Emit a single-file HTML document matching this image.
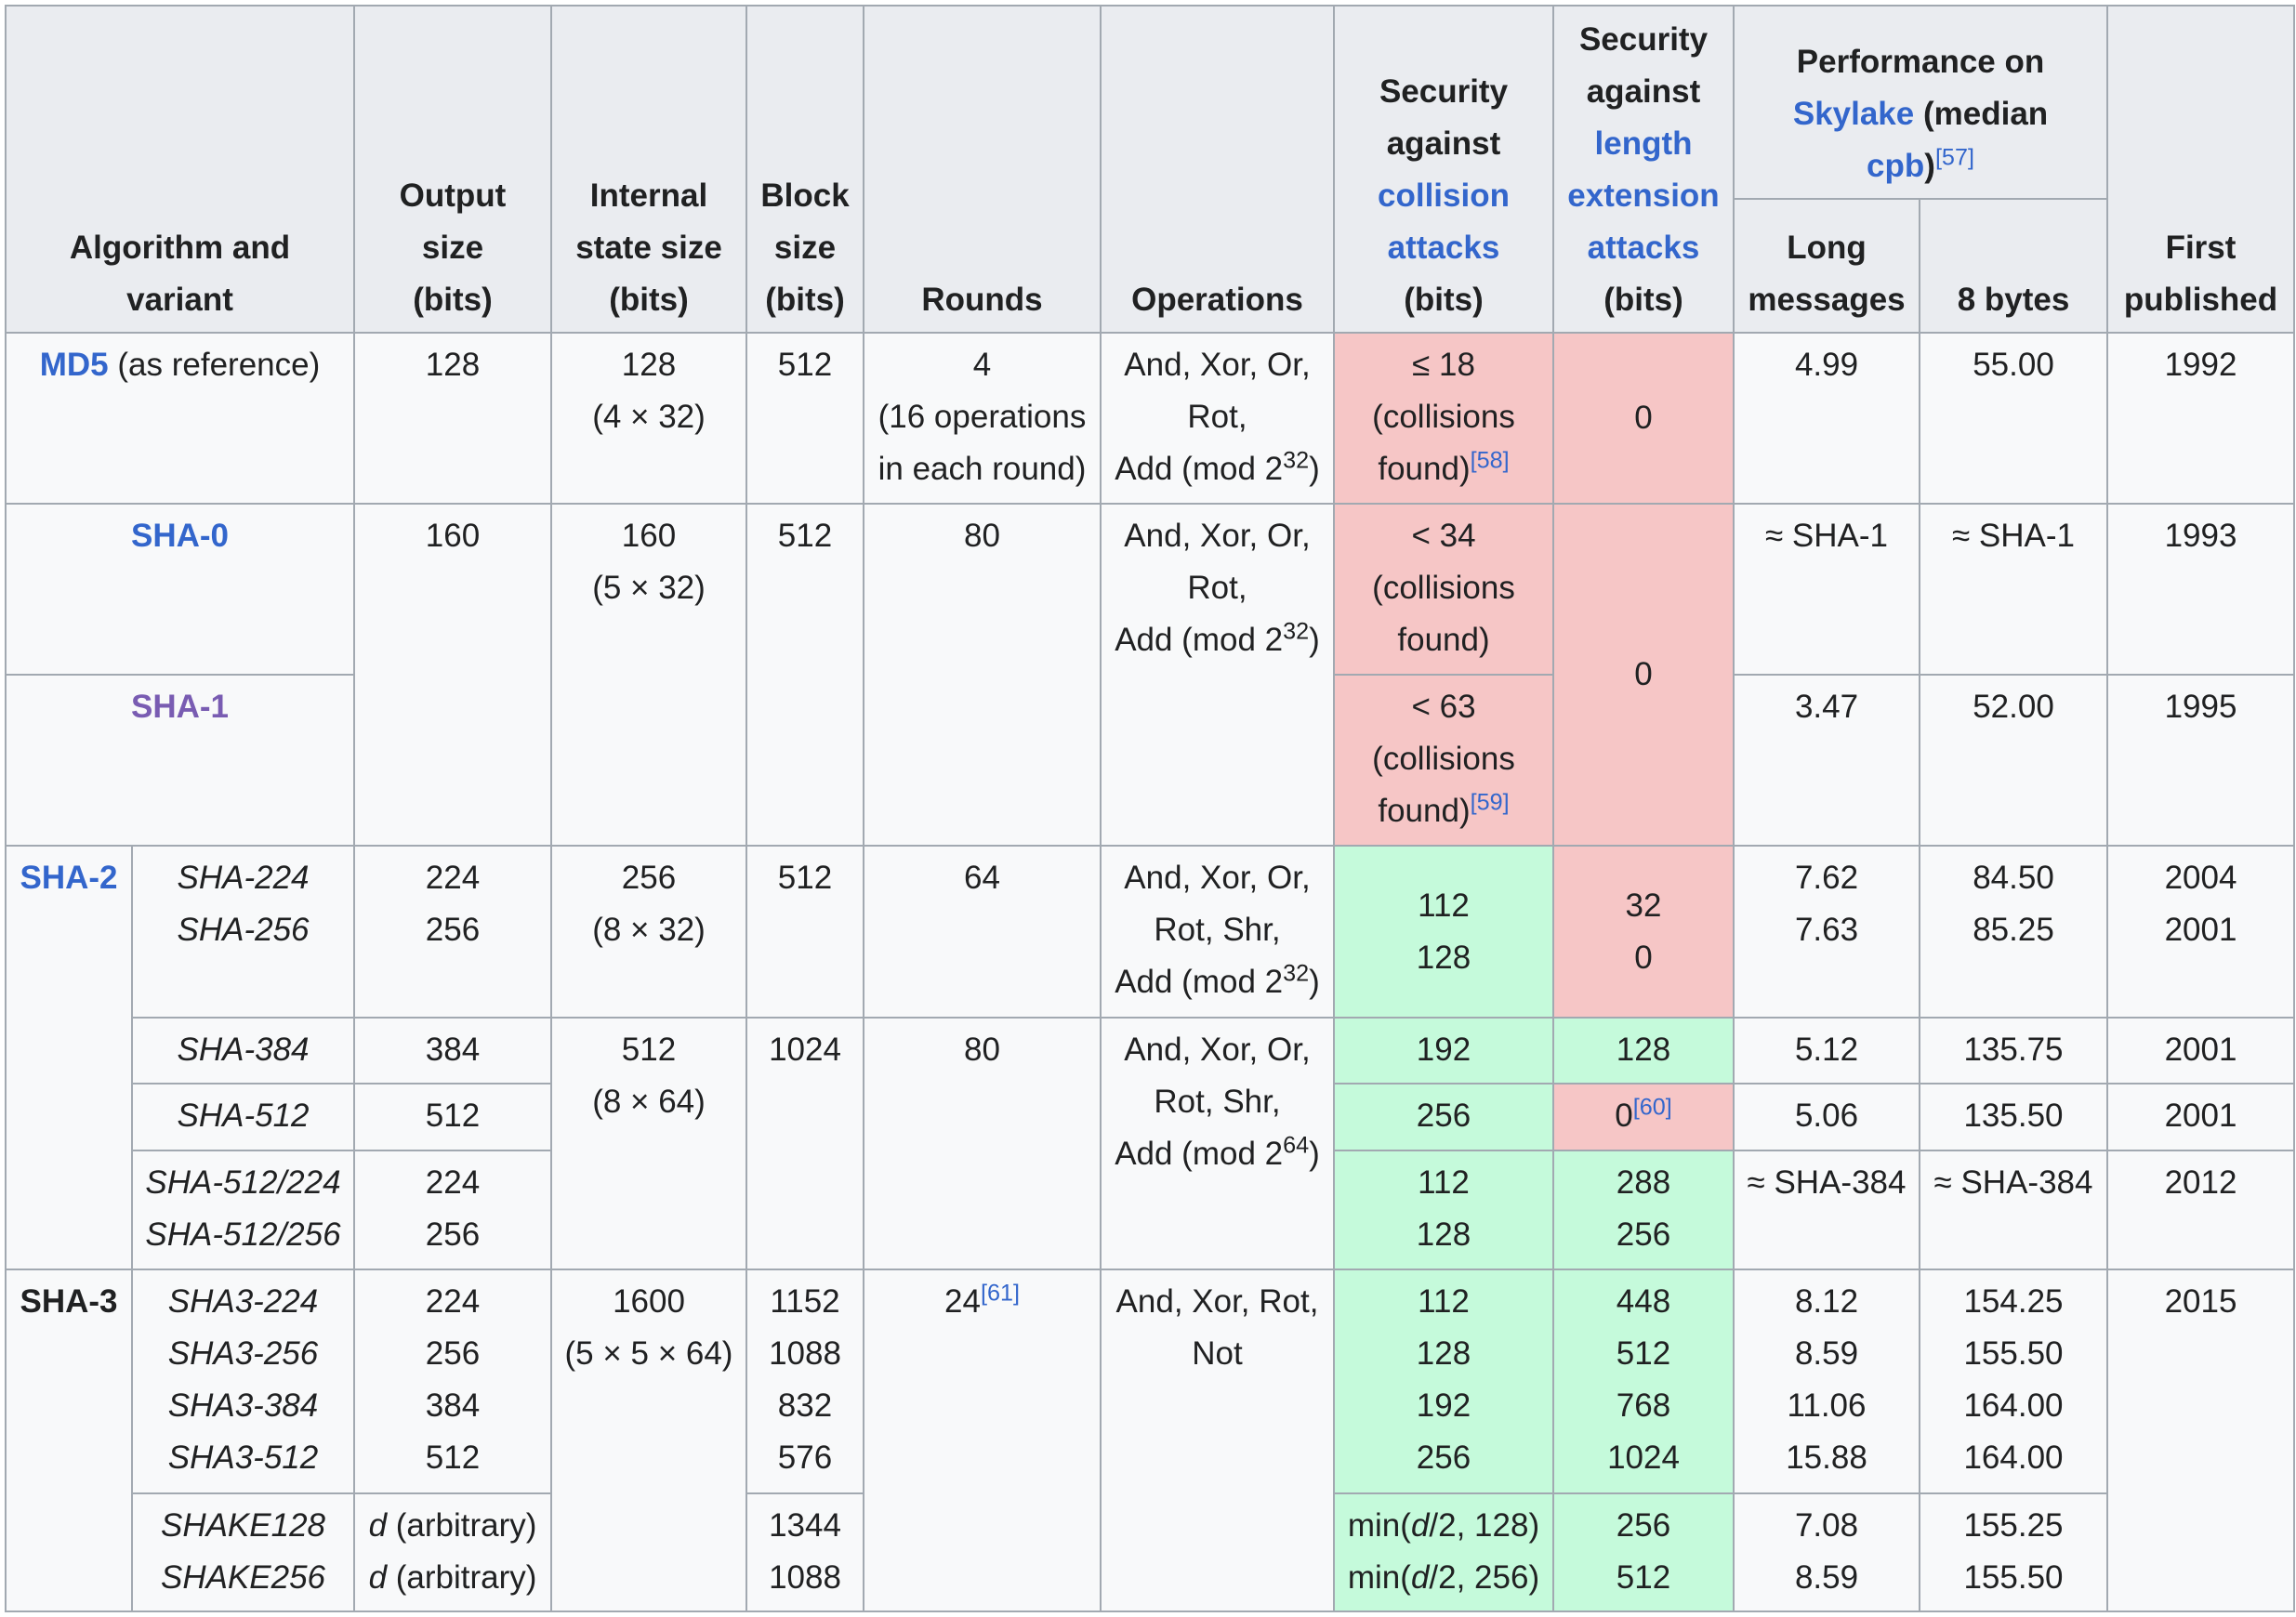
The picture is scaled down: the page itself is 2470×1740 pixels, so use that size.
<!DOCTYPE html>
<html><head><meta charset="utf-8">
<style>
html,body{margin:0;padding:0;background:#fff;width:2470px;height:1740px;overflow:hidden}
table{position:absolute;left:5px;top:5px;border-collapse:collapse;table-layout:fixed;width:2462px;
font-family:"Liberation Sans",Arial,sans-serif;font-size:35px;line-height:56px;color:#202122;background:#f8f9fa}
td,th{border:2px solid #a2a9b1;padding:6px 8px;text-align:center;vertical-align:top;overflow:hidden;white-space:nowrap}
th{background:#eaecf0;font-weight:bold;vertical-align:bottom}
a{color:#3366cc;text-decoration:none}
.v{color:#795cb2}
sup{font-size:0.72em;line-height:0;vertical-align:super}
.ref{color:#3366cc;font-weight:normal}
.no{background:#f6c6c6}
.yes{background:#c5fadb}
.mid{vertical-align:middle}
i{font-style:italic}
</style></head><body>
<table>
<colgroup>
<col style="width:136px"><col style="width:239px"><col style="width:212px"><col style="width:210px"><col style="width:126px"><col style="width:255px"><col style="width:251px"><col style="width:236px"><col style="width:194px"><col style="width:200px"><col style="width:202px"><col style="width:201px">
</colgroup>
<tr style="height:208px">
<th colspan="2" rowspan="2">Algorithm and<br>variant</th>
<th rowspan="2">Output<br>size<br>(bits)</th>
<th rowspan="2">Internal<br>state size<br>(bits)</th>
<th rowspan="2">Block<br>size<br>(bits)</th>
<th rowspan="2">Rounds</th>
<th rowspan="2">Operations</th>
<th rowspan="2">Security<br>against<br><a href="#">collision<br>attacks</a><br>(bits)</th>
<th rowspan="2">Security<br>against<br><a href="#">length<br>extension<br>attacks</a><br>(bits)</th>
<th colspan="2">Performance on<br><a href="#">Skylake</a> (median<br><a href="#">cpb</a>)<sup class="ref">[57]</sup></th>
<th rowspan="2">First<br>published</th>
</tr>
<tr style="height:144px">
<th>Long<br>messages</th>
<th>8 bytes</th>
</tr>
<tr style="height:184px">
<td colspan="2"><a href="#" style="font-weight:bold">MD5</a> (as reference)</td>
<td>128</td><td>128<br>(4 × 32)</td><td>512</td><td>4<br>(16 operations<br>in each round)</td>
<td>And, Xor, Or,<br>Rot,<br>Add (mod 2<sup>32</sup>)</td>
<td class="no">≤ 18<br>(collisions<br>found)<sup class="ref">[58]</sup></td>
<td class="no mid">0</td><td>4.99</td><td>55.00</td><td>1992</td>
</tr>
<tr style="height:184px">
<td colspan="2"><a href="#" style="font-weight:bold">SHA-0</a></td>
<td rowspan="2">160</td><td rowspan="2">160<br>(5 × 32)</td><td rowspan="2">512</td><td rowspan="2">80</td>
<td rowspan="2">And, Xor, Or,<br>Rot,<br>Add (mod 2<sup>32</sup>)</td>
<td class="no">&lt; 34<br>(collisions<br>found)</td>
<td rowspan="2" class="no mid">0</td><td>≈ SHA-1</td><td>≈ SHA-1</td><td>1993</td>
</tr>
<tr style="height:184px">
<td colspan="2"><a href="#" class="v" style="font-weight:bold">SHA-1</a></td>
<td class="no">&lt; 63<br>(collisions<br>found)<sup class="ref">[59]</sup></td>
<td>3.47</td><td>52.00</td><td>1995</td>
</tr>
<tr style="height:185px">
<td rowspan="4"><a href="#" style="font-weight:bold">SHA-2</a></td>
<td><i>SHA-224<br>SHA-256</i></td><td>224<br>256</td><td>256<br>(8 × 32)</td><td>512</td><td>64</td>
<td>And, Xor, Or,<br>Rot, Shr,<br>Add (mod 2<sup>32</sup>)</td>
<td class="yes mid">112<br>128</td><td class="no mid">32<br>0</td>
<td>7.62<br>7.63</td><td>84.50<br>85.25</td><td>2004<br>2001</td>
</tr>
<tr style="height:71px">
<td><i>SHA-384</i></td><td>384</td><td rowspan="3">512<br>(8 × 64)</td><td rowspan="3">1024</td><td rowspan="3">80</td>
<td rowspan="3">And, Xor, Or,<br>Rot, Shr,<br>Add (mod 2<sup>64</sup>)</td>
<td class="yes">192</td><td class="yes">128</td><td>5.12</td><td>135.75</td><td>2001</td>
</tr>
<tr style="height:72px">
<td><i>SHA-512</i></td><td>512</td><td class="yes">256</td><td class="no">0<sup class="ref">[60]</sup></td><td>5.06</td><td>135.50</td><td>2001</td>
</tr>
<tr style="height:128px">
<td><i>SHA-512/224<br>SHA-512/256</i></td><td>224<br>256</td><td class="yes">112<br>128</td><td class="yes">288<br>256</td>
<td>≈ SHA-384</td><td>≈ SHA-384</td><td>2012</td>
</tr>
<tr style="height:241px">
<td rowspan="2" style="font-weight:bold">SHA-3</td>
<td><i>SHA3-224<br>SHA3-256<br>SHA3-384<br>SHA3-512</i></td><td>224<br>256<br>384<br>512</td>
<td rowspan="2">1600<br>(5 × 5 × 64)</td><td>1152<br>1088<br>832<br>576</td>
<td rowspan="2">24<sup class="ref">[61]</sup></td><td rowspan="2">And, Xor, Rot,<br>Not</td>
<td class="yes">112<br>128<br>192<br>256</td><td class="yes">448<br>512<br>768<br>1024</td>
<td>8.12<br>8.59<br>11.06<br>15.88</td><td>154.25<br>155.50<br>164.00<br>164.00</td><td rowspan="2">2015</td>
</tr>
<tr style="height:127px">
<td><i>SHAKE128<br>SHAKE256</i></td><td><i>d</i> (arbitrary)<br><i>d</i> (arbitrary)</td><td>1344<br>1088</td>
<td class="yes">min(<i>d</i>/2, 128)<br>min(<i>d</i>/2, 256)</td><td class="yes">256<br>512</td>
<td>7.08<br>8.59</td><td>155.25<br>155.50</td>
</tr>
</table>
</body></html>
